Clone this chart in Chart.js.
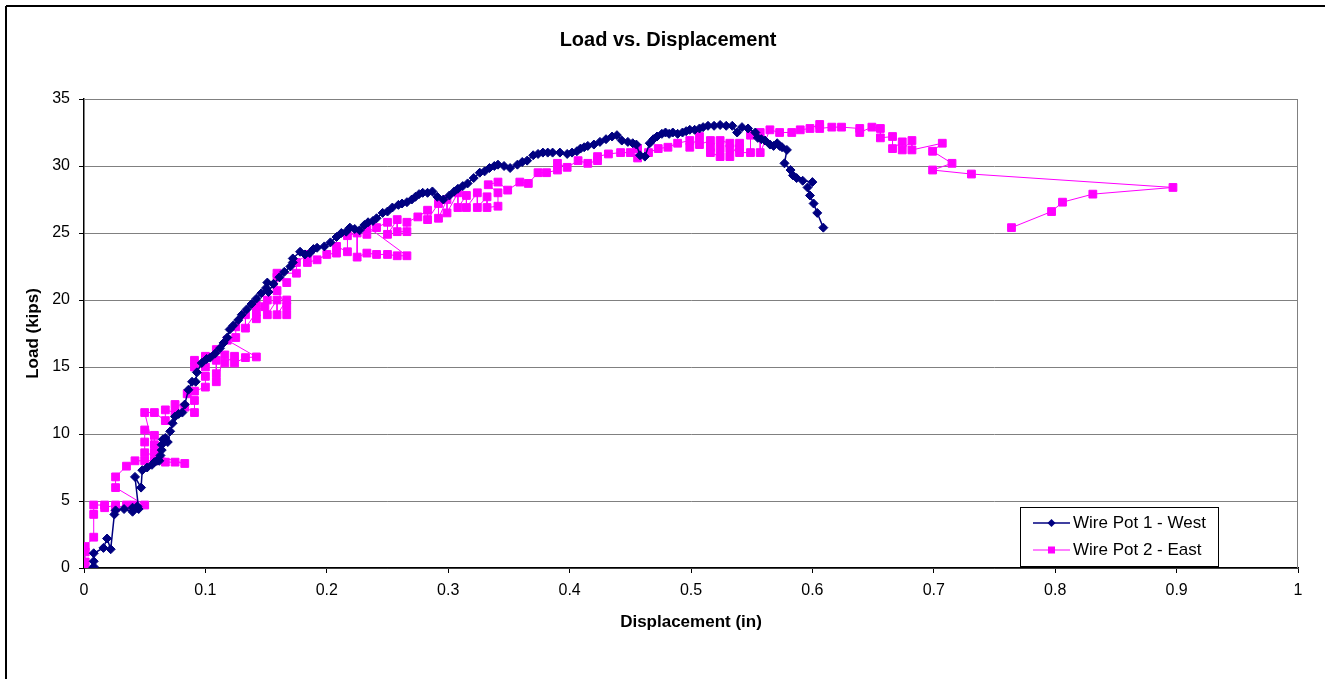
<!DOCTYPE html>
<html>
<head>
<meta charset="utf-8">
<script src="https://cdn.jsdelivr.net/npm/chart.js@4/dist/chart.umd.min.js"></script>
<style>
html,body{margin:0;padding:0;background:#fff;}
#wrap{width:1325px;height:679px;position:relative;}
</style>
</head>
<body>
<div id="wrap"><canvas id="c" width="1325" height="679"></canvas></div>
<script>
const chartTitle = 'Load vs. Displacement';
const xAxisTitle = 'Displacement (in)';
const yAxisTitle = 'Load (kips)';
const seriesNames = ['Wire Pot 1 - West', 'Wire Pot 2 - East'];
const xTickLabels = ['0','0.1','0.2','0.3','0.4','0.5','0.6','0.7','0.8','0.9','1'];
const yTickLabels = ['0','5','10','15','20','25','30','35'];

const westDisp = [0.008,0.008,0.008,0.008,0.016,0.019,0.022,0.025,0.026,0.033,0.040,0.040,0.044,0.045,0.042,0.047,0.048,0.052,0.056,0.058,0.060,0.062,0.063,0.064,0.064,0.065,0.067,0.069,0.071,0.073,0.075,0.078,0.081,0.083,0.086,0.089,0.092,0.093,0.097,0.101,0.104,0.108,0.112,0.115,0.118,0.120,0.123,0.127,0.130,0.134,0.138,0.142,0.146,0.150,0.151,0.152,0.156,0.161,0.165,0.170,0.172,0.172,0.178,0.182,0.186,0.189,0.192,0.198,0.203,0.208,0.212,0.216,0.219,0.223,0.227,0.231,0.234,0.238,0.241,0.246,0.250,0.254,0.259,0.262,0.266,0.270,0.273,0.276,0.279,0.283,0.287,0.291,0.296,0.301,0.305,0.308,0.312,0.316,0.321,0.326,0.330,0.334,0.338,0.341,0.346,0.351,0.357,0.361,0.365,0.370,0.374,0.378,0.382,0.386,0.392,0.398,0.402,0.406,0.409,0.412,0.415,0.420,0.425,0.430,0.435,0.439,0.443,0.448,0.452,0.455,0.458,0.462,0.466,0.469,0.472,0.476,0.479,0.482,0.485,0.489,0.493,0.496,0.499,0.503,0.507,0.510,0.514,0.519,0.524,0.529,0.534,0.538,0.542,0.547,0.553,0.555,0.558,0.561,0.565,0.568,0.571,0.573,0.575,0.579,0.577,0.582,0.584,0.587,0.592,0.600,0.596,0.598,0.601,0.604,0.609];
const westLoad = [0.0,0.1,0.5,1.1,1.5,2.2,1.4,4.0,4.3,4.4,4.2,4.5,4.6,4.4,6.8,6.0,7.3,7.5,7.7,7.9,8.0,8.0,8.4,8.8,9.2,9.6,9.7,9.4,10.2,10.8,11.3,11.5,11.6,12.2,13.3,13.9,13.9,14.6,15.3,15.6,15.7,16.0,16.4,16.8,17.2,17.8,18.1,18.5,18.9,19.3,19.7,20.1,20.5,20.9,21.3,20.6,21.2,21.7,22.1,22.5,22.8,23.1,23.6,23.4,23.5,23.8,23.9,24.0,24.3,24.7,25.0,25.1,25.4,25.3,25.2,25.6,25.8,25.9,26.1,26.5,26.6,26.9,27.1,27.2,27.3,27.5,27.7,27.9,28.0,28.0,28.1,27.7,27.5,27.8,28.1,28.3,28.5,28.7,29.1,29.5,29.6,29.85,30.0,30.1,30.0,29.85,30.1,30.3,30.4,30.8,30.9,31.0,31.0,31.0,31.0,30.9,31.0,31.1,31.3,31.4,31.5,31.6,31.8,32.0,32.2,32.3,31.9,31.8,31.7,31.6,30.8,30.7,31.7,32.0,32.2,32.4,32.5,32.4,32.5,32.4,32.5,32.6,32.7,32.7,32.8,32.9,33.0,33.0,33.06,33.0,33.0,32.5,32.9,32.8,32.5,32.1,32.0,31.9,31.6,31.5,31.7,31.5,31.4,31.2,30.2,29.7,29.3,29.1,28.9,28.8,28.4,27.8,27.2,26.5,25.4];

const eastDisp = [0.000,0.000,0.001,0.001,0.001,0.008,0.008,0.008,0.017,0.017,0.026,0.026,0.035,0.041,0.050,0.026,0.026,0.035,0.042,0.050,0.058,0.067,0.075,0.083,0.050,0.050,0.050,0.058,0.058,0.058,0.050,0.058,0.067,0.067,0.075,0.075,0.083,0.091,0.091,0.085,0.091,0.100,0.100,0.091,0.091,0.100,0.100,0.109,0.109,0.109,0.109,0.116,0.116,0.124,0.124,0.133,0.142,0.118,0.125,0.125,0.133,0.133,0.142,0.142,0.142,0.149,0.151,0.151,0.159,0.159,0.167,0.167,0.167,0.159,0.159,0.167,0.159,0.175,0.175,0.184,0.184,0.192,0.200,0.208,0.208,0.217,0.217,0.225,0.225,0.233,0.241,0.250,0.258,0.266,0.233,0.233,0.241,0.250,0.250,0.258,0.258,0.266,0.266,0.275,0.283,0.283,0.292,0.292,0.299,0.299,0.308,0.308,0.315,0.315,0.324,0.324,0.332,0.332,0.341,0.341,0.333,0.341,0.349,0.359,0.366,0.374,0.381,0.390,0.390,0.398,0.407,0.415,0.423,0.423,0.432,0.442,0.450,0.456,0.456,0.465,0.473,0.481,0.489,0.499,0.499,0.507,0.507,0.516,0.516,0.516,0.524,0.524,0.524,0.532,0.532,0.532,0.540,0.540,0.540,0.549,0.549,0.557,0.557,0.565,0.573,0.583,0.590,0.598,0.606,0.606,0.616,0.624,0.639,0.639,0.649,0.656,0.656,0.666,0.666,0.674,0.674,0.682,0.682,0.707,0.699,0.715,0.699,0.731,0.897,0.831,0.806,0.797,0.764];
const eastLoad = [0.0,0.2,0.45,1.2,1.6,2.3,4.0,4.7,4.7,4.5,4.7,4.5,4.7,4.7,4.7,6.0,6.8,7.6,8.0,8.0,8.0,7.9,7.9,7.8,8.6,9.4,10.3,9.9,9.2,8.6,11.6,11.6,11.0,11.8,11.6,12.2,12.0,11.6,12.5,13.0,13.2,13.5,14.3,15.0,15.5,15.0,15.8,16.3,15.5,14.5,13.9,15.9,15.3,15.8,15.3,15.7,15.75,17.0,17.2,18.0,18.9,17.9,19.1,18.6,19.6,19.5,20.0,18.9,20.0,18.9,20.0,18.9,19.5,20.7,21.7,21.3,22.0,22.0,22.8,23.4,22.8,23.0,23.4,23.5,24.0,23.6,24.8,25.0,23.2,23.5,23.4,23.4,23.3,23.3,25.5,24.9,25.4,25.8,24.9,26.0,25.1,25.1,25.8,26.2,26.7,26.0,27.2,26.1,27.5,26.5,28.0,26.9,27.8,26.9,28.0,26.9,27.7,26.9,27.0,28.0,28.6,28.8,28.2,28.8,28.7,29.5,29.5,29.7,30.2,29.9,30.4,30.2,30.4,30.7,30.9,31.0,31.0,31.3,30.6,31.0,31.3,31.4,31.7,31.9,31.4,32.2,31.6,31.9,31.4,31.0,30.7,31.3,31.9,31.7,31.3,30.7,31.7,31.3,31.0,31.0,32.3,32.5,31.0,32.7,32.5,32.5,32.7,32.8,33.1,32.8,32.9,32.9,32.8,32.5,32.9,32.8,32.1,32.2,31.3,31.8,31.2,31.9,31.2,31.7,31.1,30.2,29.7,29.4,28.4,27.9,27.3,26.6,25.4];

const westColor = '#000080';
const eastColor = '#FF00FF';

function toPoints(xs, ys){ return xs.map((x,i)=>({x:x, y:ys[i]})); }

const decorPlugin = {
  id: 'decor',
  beforeDraw(chart){
    const ctx = chart.ctx;
    ctx.save();
    ctx.fillStyle = '#fff';
    ctx.fillRect(0,0,chart.width,chart.height);
    ctx.strokeStyle = '#000';
    ctx.lineWidth = 2;
    ctx.beginPath();
    ctx.moveTo(6, 6); ctx.lineTo(1325, 6);
    ctx.moveTo(6, 6); ctx.lineTo(6, 679);
    ctx.stroke();
    ctx.restore();
  },
  beforeDatasetsDraw(chart){
    const ctx = chart.ctx, a = chart.chartArea;
    ctx.save();
    ctx.strokeStyle = '#808080';
    ctx.lineWidth = 1;
    ctx.beginPath();
    ctx.moveTo(a.left, a.top + 0.5); ctx.lineTo(a.right - 0.5, a.top + 0.5);
    ctx.lineTo(a.right - 0.5, a.bottom);
    ctx.stroke();
    ctx.restore();
  },
  afterDraw(chart){
    const ctx = chart.ctx;
    ctx.save();
    ctx.fillStyle = '#000';
    ctx.font = 'bold 20px "Liberation Sans", Arial, sans-serif';
    ctx.textAlign = 'center';
    ctx.textBaseline = 'middle';
    ctx.fillText(chartTitle, 668, 40);
    const lx = 1020.5, ly = 507.5, lw = 198, lh = 59;
    ctx.fillStyle = '#fff';
    ctx.fillRect(lx, ly, lw, lh);
    ctx.strokeStyle = '#000';
    ctx.lineWidth = 1;
    ctx.strokeRect(lx, ly, lw, lh);
    const rows = [523, 550];
    ctx.strokeStyle = westColor; ctx.lineWidth = 1.5;
    ctx.beginPath(); ctx.moveTo(1033, rows[0]); ctx.lineTo(1070, rows[0]); ctx.stroke();
    ctx.fillStyle = westColor;
    ctx.beginPath();
    ctx.moveTo(1051.5, rows[0]-4); ctx.lineTo(1055.5, rows[0]); ctx.lineTo(1051.5, rows[0]+4); ctx.lineTo(1047.5, rows[0]);
    ctx.closePath(); ctx.fill();
    ctx.strokeStyle = eastColor; ctx.lineWidth = 1;
    ctx.beginPath(); ctx.moveTo(1033, rows[1]); ctx.lineTo(1070, rows[1]); ctx.stroke();
    ctx.fillStyle = eastColor;
    ctx.fillRect(1048, rows[1]-3.5, 7, 7);
    ctx.fillStyle = '#000';
    ctx.font = '17px "Liberation Sans", Arial, sans-serif';
    ctx.textAlign = 'left';
    ctx.fillText(seriesNames[0], 1073, rows[0]);
    ctx.fillText(seriesNames[1], 1073, rows[1]);
    ctx.restore();
  }
};

new Chart(document.getElementById('c'), {
  type: 'scatter',
  data: {
    datasets: [
      {
        label: seriesNames[0],
        data: toPoints(westDisp, westLoad),
        showLine: true,
        borderColor: westColor,
        backgroundColor: westColor,
        borderWidth: 1.5,
        pointStyle: 'rectRot',
        pointRadius: 4.5,
        pointBorderWidth: 1,
        pointBorderColor: westColor,
        pointBackgroundColor: westColor,
        tension: 0
      },
      {
        label: seriesNames[1],
        data: toPoints(eastDisp, eastLoad),
        showLine: true,
        borderColor: eastColor,
        backgroundColor: eastColor,
        borderWidth: 1,
        pointStyle: 'rect',
        pointRadius: 5.5,
        pointBorderWidth: 1,
        pointBorderColor: eastColor,
        pointBackgroundColor: eastColor,
        tension: 0
      }
    ]
  },
  options: {
    responsive: false,
    animation: false,
    devicePixelRatio: 1,
    layout: { padding: { top: 99, right: 27, bottom: 0, left: 0 } },
    plugins: {
      legend: { display: false },
      title: { display: false },
      tooltip: { enabled: false }
    },
    scales: {
      x: {
        type: 'linear',
        min: 0, max: 1,
        afterFit(s){ s.height = 111; },
        afterBuildTicks(s){ s.ticks = xTickLabels.map(t => ({value: parseFloat(t)})); },
        ticks: {
          color: '#000',
          font: { family: '"Liberation Sans", Arial, sans-serif', size: 16 },
          padding: 8,
          maxRotation: 0,
          autoSkip: false,
          callback: (v, i) => xTickLabels[i]
        },
        grid: { drawOnChartArea: false, drawTicks: true, tickLength: 5, tickColor: '#000', tickWidth: 1 },
        border: { color: '#000', width: 1.5 },
        title: {
          display: true, text: xAxisTitle, color: '#000',
          font: { family: '"Liberation Sans", Arial, sans-serif', size: 17, weight: 'bold' },
          padding: { top: 0, bottom: 46 }
        }
      },
      y: {
        type: 'linear',
        min: 0, max: 35,
        afterFit(s){ s.width = 84; },
        afterBuildTicks(s){ s.ticks = yTickLabels.map(t => ({value: parseFloat(t)})); },
        ticks: {
          color: '#000',
          font: { family: '"Liberation Sans", Arial, sans-serif', size: 16 },
          padding: 9,
          autoSkip: false,
          callback: (v, i) => yTickLabels[i]
        },
        grid: { color: '#808080', lineWidth: 1, tickLength: 5, tickColor: '#000', tickWidth: 1 },
        border: { color: '#000', width: 1.5 },
        title: {
          display: true, text: yAxisTitle, color: '#000',
          font: { family: '"Liberation Sans", Arial, sans-serif', size: 17, weight: 'bold' },
          padding: { top: 23, bottom: 0 }
        }
      }
    }
  },
  plugins: [decorPlugin]
});
</script>
</body>
</html>
